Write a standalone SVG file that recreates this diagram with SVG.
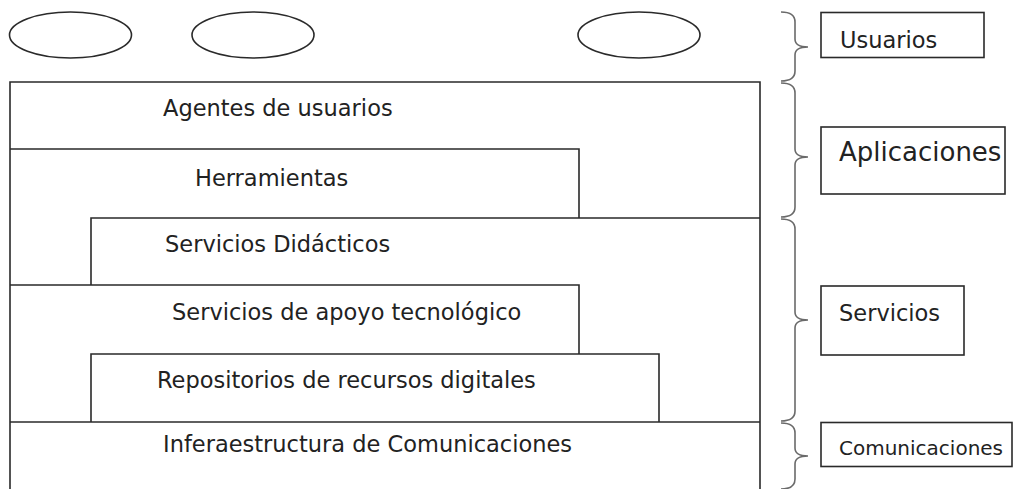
<svg xmlns="http://www.w3.org/2000/svg" width="1013" height="489" viewBox="0 0 1013 489">
<style>
.ln{fill:none;stroke:#2a2a2a;stroke-width:1.6}
.br{fill:none;stroke:#6a6a6a;stroke-width:1.6}
.t{font-family:"DejaVu Sans","Verdana",sans-serif;font-size:22.5px;fill:#222}
</style>
<rect width="1013" height="489" fill="#fff"/>
<g id="usuario1"><ellipse class="ln" cx="70.5" cy="35" rx="61" ry="23"/></g>
<g id="usuario2"><ellipse class="ln" cx="253" cy="35" rx="61" ry="23"/></g>
<g id="usuario3"><ellipse class="ln" cx="639" cy="35" rx="61" ry="23"/></g>
<g id="agentes"><path class="ln" d="M10,489 V82 H760 V489"/><text class="t" x="163" y="116">Agentes de usuarios</text></g>
<g id="herramientas"><path class="ln" d="M10,149 H579 V218"/><text class="t" x="195" y="186">Herramientas</text></g>
<g id="didacticos"><path class="ln" d="M91,285 V218 H760"/><text class="t" x="165" y="252">Servicios Didácticos</text></g>
<g id="apoyo"><path class="ln" d="M10,285 H579 V354"/><text class="t" x="172" y="320">Servicios de apoyo tecnológico</text></g>
<g id="repositorios"><path class="ln" d="M91,422 V354 H659 V422"/><text class="t" x="157" y="388">Repositorios de recursos digitales</text></g>
<g id="infraestructura"><path class="ln" d="M10,422 H760"/><text class="t" x="163" y="452">Inferaestructura de Comunicaciones</text></g>
<g id="lbl-usuarios"><rect class="ln" x="821" y="12.5" width="163" height="45"/><text class="t" x="840" y="48">Usuarios</text></g>
<g id="lbl-aplicaciones"><rect class="ln" x="821" y="127" width="184" height="67"/><text class="t" x="839" y="161" style="font-size:26px">Aplicaciones</text></g>
<g id="lbl-servicios"><rect class="ln" x="821" y="286" width="143" height="69"/><text class="t" x="839" y="321">Servicios</text></g>
<g id="lbl-comunicaciones"><rect class="ln" x="821" y="422.5" width="191" height="44"/><text class="t" x="839" y="455" style="font-size:20px">Comunicaciones</text></g>
<g id="connectors">
<path class="br" d="M781,12 Q795,12 795,22 L795,39 Q795,47 808,47 Q795,47 795,55 L795,71 Q795,81 781,81"/>
<path class="br" d="M781,83 Q795,83 795,93 L795,149 Q795,157 808,157 Q795,157 795,165 L795,207 Q795,217 781,217"/>
<path class="br" d="M781,219 Q795,219 795,229 L795,312 Q795,320 808,320 Q795,320 795,328 L795,411 Q795,421 781,421"/>
<path class="br" d="M781,423 Q795,423 795,433 L795,448 Q795,456 808,456 Q795,456 795,464 L795,479 Q795,489 781,489"/>
</g>
</svg>
